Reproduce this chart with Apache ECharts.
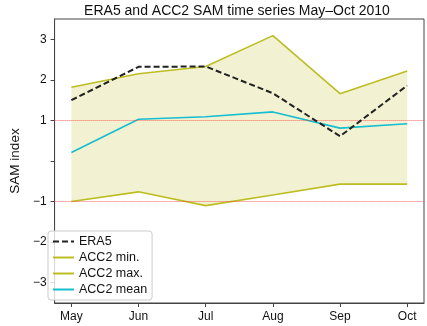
<!DOCTYPE html>
<html>
<head>
<meta charset="utf-8">
<script src="https://cdn.jsdelivr.net/npm/echarts@6/dist/echarts.min.js"></script>
<style>
  html, body { margin: 0; padding: 0; background: #fff; }
  #chart { width: 427px; height: 326px; }
</style>
</head>
<body>
<div id="chart"></div>
<script>
var months = ['May', 'Jun', 'Jul', 'Aug', 'Sep', 'Oct'];
var era5 = [1.50, 2.32, 2.33, 1.67, 0.61, 1.86];
var accMin = [-1.00, -0.76, -1.10, -0.84, -0.57, -0.57];
var accMax = [1.82, 2.15, 2.33, 3.09, 1.66, 2.22];
var accMean = [0.21, 1.03, 1.09, 1.21, 0.81, 0.92];
var yTicks = [-3, -2, -1, 0, 1, 2, 3];
var yLabels = [-3, -2, -1, 1, 2, 3];
var refLines = [1, -1];

var olive = '#bcbd22';
var cyan = '#17becf';
var font = 'Liberation Sans, Arial, sans-serif';

function pairs(arr) {
    return arr.map(function (v, i) { return [i, v]; });
}

var chart = echarts.init(document.getElementById('chart'));

var option = {
    animation: false,
    title: {
        text: 'ERA5 and ACC2 SAM time series May\u2013Oct 2010',
        left: 232,
        textAlign: 'center',
        top: -1,
        textStyle: { fontFamily: font, fontSize: 14, fontWeight: 'normal', color: '#111' }
    },
    grid: {
        left: 43, right: 3, top: 19, bottom: 23,
        show: true, borderColor: '#444', borderWidth: 1
    },
    legend: {
        orient: 'vertical',
        left: 48, top: 231,
        data: ['ERA5', 'ACC2 min.', 'ACC2 max.', 'ACC2 mean'],
        itemWidth: 21, itemHeight: 12, itemGap: 3,
        itemStyle: { opacity: 0 },   // hide the circle, keep only the line
        padding: [4, 5, 4, 4],
        borderColor: '#ccc', borderWidth: 1, borderRadius: 3,
        backgroundColor: 'rgba(255,255,255,0.8)',
        textStyle: { fontFamily: font, fontSize: 12.5, color: '#111' }
    },
    xAxis: {
        type: 'value',
        min: -0.25, max: 5.25,
        splitLine: { show: false },
        axisLine: { onZero: false, lineStyle: { color: '#444' } },
        axisTick: { customValues: [0, 1, 2, 3, 4, 5], length: 4, lineStyle: { color: '#444' } },
        axisLabel: {
            customValues: [0, 1, 2, 3, 4, 5],
            margin: 8,
            fontFamily: font, fontSize: 12, color: '#111',
            formatter: function (v) { return months[Math.round(v)]; }
        }
    },
    yAxis: {
        type: 'value',
        min: -3.5, max: 3.5,
        name: 'SAM index',
        nameLocation: 'middle',
        nameGap: 26,
        nameTextStyle: { fontFamily: font, fontSize: 13.5, color: '#111' },
        splitLine: { show: false },
        axisLine: { show: true, onZero: false, lineStyle: { color: '#444' } },
        axisTick: { show: true, customValues: yTicks, length: 4, lineStyle: { color: '#444' } },
        axisLabel: {
            customValues: yLabels,
            margin: 8,
            fontFamily: font, fontSize: 12, color: '#111',
            formatter: function (v) { return v < 0 ? '\u2212' + Math.abs(v) : String(v); }
        }
    },
    series: [
        {
            name: 'band',
            type: 'custom',
            data: [[0, 0]],
            silent: true,
            z: 1,
            renderItem: function (params, api) {
                var top = accMax.map(function (v, i) { return api.coord([i, v]); });
                var bottom = accMin.map(function (v, i) { return api.coord([i, v]); }).reverse();
                return {
                    type: 'polygon',
                    shape: { points: top.concat(bottom) },
                    style: { fill: 'rgba(188,189,34,0.2)' }
                };
            }
        },
        {
            name: 'ERA5',
            type: 'line',
            data: pairs(era5),
            symbol: 'none',
            color: '#222',
            lineStyle: { color: '#222', width: 2, type: [6, 3] },
            z: 5
        },
        {
            name: 'ACC2 min.',
            type: 'line',
            data: pairs(accMin),
            symbol: 'none',
            color: olive,
            lineStyle: { color: olive, width: 1.6 },
            z: 4,
            markLine: {
                silent: true,
                symbol: 'none',
                label: { show: false },
                lineStyle: { color: 'rgba(255,60,60,0.8)', type: [1, 1], width: 1 },
                data: refLines.map(function (v) { return { yAxis: v }; })
            }
        },
        {
            name: 'ACC2 max.',
            type: 'line',
            data: pairs(accMax),
            symbol: 'none',
            color: olive,
            lineStyle: { color: olive, width: 1.6 },
            z: 4
        },
        {
            name: 'ACC2 mean',
            type: 'line',
            data: pairs(accMean),
            symbol: 'none',
            color: cyan,
            lineStyle: { color: cyan, width: 1.6 },
            z: 4
        }
    ]
};

chart.setOption(option);
</script>
</body>
</html>
